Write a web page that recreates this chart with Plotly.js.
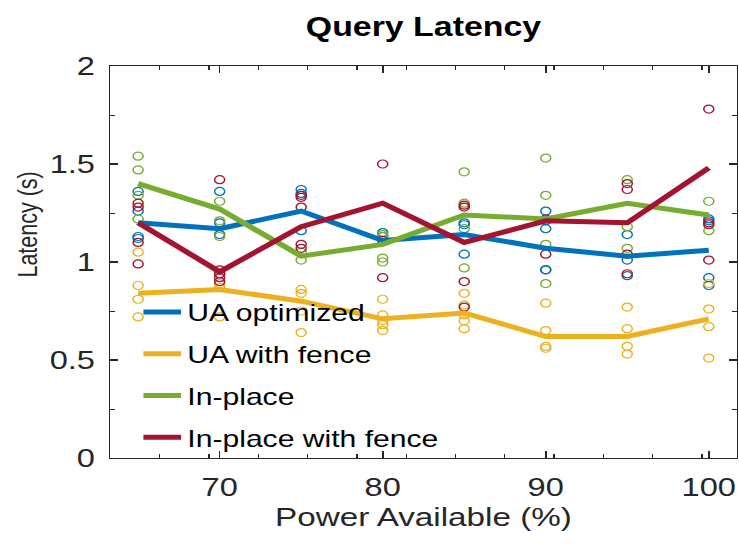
<!DOCTYPE html>
<html>
<head>
<meta charset="utf-8">
<script src="https://cdn.plot.ly/plotly-3.0.1.min.js"></script>
<style>
  html, body { margin: 0; padding: 0; background: #fff; overflow: hidden; }
  #wrap { width: 739px; height: 548px; overflow: hidden; }
  /* the figure is laid out narrow and stretched horizontally */
  #chart { width: 589px; height: 548px; transform: scaleX(1.2547); transform-origin: 0 0; }
</style>
</head>
<body>
<div id="wrap"><div id="chart"></div></div>
<script>
// Power budget levels (%)
const powerLevels = [65, 70, 75, 80, 85, 90, 95, 100];

// Individual run latencies (s), one list per power level
const uaOptimizedRuns = [
  [1.36, 1.26, 1.13, 1.12],
  [1.36, 1.20, 1.14, 0.94],
  [1.37, 1.35, 1.16],
  [1.15, 1.13],
  [1.20, 1.19, 1.04],
  [1.26, 1.21, 1.17, 0.96, 0.96],
  [1.14, 1.01, 0.93],
  [1.22, 1.21, 0.92, 0.88]
];
const uaFenceRuns = [
  [1.05, 0.88, 0.81, 0.72],
  [0.89, 0.87, 0.72],
  [0.86, 0.84, 0.75, 0.64],
  [0.81, 0.73, 0.70, 0.68, 0.65],
  [0.84, 0.78, 0.73, 0.70, 0.66],
  [0.79, 0.65, 0.57, 0.56],
  [0.77, 0.66, 0.57, 0.53],
  [0.89, 0.76, 0.67, 0.51]
];
const inPlaceRuns = [
  [1.54, 1.47, 1.34, 1.22],
  [1.31, 1.21, 1.13],
  [1.05, 1.01],
  [1.14, 1.13, 1.02, 1.00],
  [1.46, 1.30, 1.17, 0.97],
  [1.53, 1.34, 1.09, 0.89],
  [1.42, 1.18, 1.07],
  [1.31, 1.16]
];
const inPlaceFenceRuns = [
  [1.30, 1.28, 1.10, 0.99],
  [1.42, 0.96, 0.94, 0.92, 0.90],
  [1.34, 1.33, 1.28, 1.09, 1.07],
  [1.50, 1.11, 0.92],
  [1.29, 1.28, 0.90, 0.77],
  [1.22, 1.04],
  [1.40, 1.37, 1.04, 0.94],
  [1.78, 1.20, 1.19, 1.01]
];

// Mean latency per power level (s)
const uaOptimizedMean = [1.20, 1.17, 1.26, 1.11, 1.14, 1.07, 1.03, 1.06];
const uaFenceMean     = [0.84, 0.86, 0.80, 0.71, 0.74, 0.62, 0.62, 0.71];
const inPlaceMean     = [1.40, 1.27, 1.03, 1.09, 1.24, 1.22, 1.30, 1.24];
const inPlaceFenceMean = [1.20, 0.95, 1.18, 1.30, 1.10, 1.21, 1.20, 1.48];

const seriesNames = ['UA optimized', 'UA with fence', 'In-place', 'In-place with fence'];
const seriesColors = ['#0072BD', '#EDB120', '#77AC30', '#A2142F'];
const seriesRuns = [uaOptimizedRuns, uaFenceRuns, inPlaceRuns, inPlaceFenceRuns];
const seriesMeans = [uaOptimizedMean, uaFenceMean, inPlaceMean, inPlaceFenceMean];

const FONT = 'Liberation Sans, Arial, Helvetica, sans-serif';
const AXIS = '#262626';

function flattenRuns(runs) {
  const xs = [], ys = [];
  runs.forEach((vals, i) => vals.forEach(v => { xs.push(powerLevels[i]); ys.push(v); }));
  return { xs, ys };
}

const traces = [];
// individual runs as open circles
seriesRuns.forEach((runs, k) => {
  const p = flattenRuns(runs);
  traces.push({
    type: 'scatter', mode: 'markers', x: p.xs, y: p.ys,
    marker: { symbol: 'circle-open', size: 8, color: seriesColors[k], line: { width: 1.2, color: seriesColors[k] } },
    showlegend: false, legendgroup: 'g' + k, hoverinfo: 'skip'
  });
});
// mean lines
seriesMeans.forEach((m, k) => {
  traces.push({
    type: 'scatter', mode: 'lines', x: powerLevels, y: m, name: seriesNames[k],
    line: { color: seriesColors[k], width: 5 }, legendgroup: 'g' + k
  });
});
// empty trace that brings up the secondary tick axis
traces.push({ type: 'scatter', mode: 'markers', x: [], y: [], xaxis: 'x2', showlegend: false, hoverinfo: 'skip' });

const xRange = [63.3, 101.7];

const layout = {
  width: 589, height: 548,
  margin: { l: 87.7, r: 2.4, t: 66, b: 90 },
  paper_bgcolor: '#fff', plot_bgcolor: '#fff',
  font: { family: FONT, color: AXIS },
  showlegend: true,
  title: {
    text: '<b>Query Latency</b>',
    font: { family: FONT, size: 27, color: '#000' },
    x: 0.5, xref: 'paper', y: 1 - 27 / 548, yref: 'container', yanchor: 'middle'
  },
  xaxis: {
    range: xRange, tickmode: 'array', tickvals: [70, 80, 90, 100],
    ticks: 'inside', ticklen: 7, tickwidth: 1.3, tickcolor: AXIS,
    showline: true, linecolor: AXIS, linewidth: 1.3, mirror: 'ticks',
    showgrid: false, zeroline: false,
    tickfont: { family: FONT, size: 26, color: AXIS },
    ticklabelstandoff: 6,
    title: { text: 'Power Available (%)', font: { family: FONT, size: 26.5, color: AXIS }, standoff: 6 }
  },
  // evenly spaced secondary ticks along both horizontal edges
  xaxis2: {
    overlaying: 'x', anchor: 'y', side: 'bottom', range: [0, 12.7],
    tickmode: 'array', tickvals: [1, 2, 3, 4, 5, 6, 7, 8, 9, 10, 11, 12],
    ticks: 'inside', ticklen: 4, tickwidth: 1, tickcolor: AXIS,
    showline: true, linecolor: AXIS, linewidth: 1.3, mirror: 'ticks',
    showticklabels: false, showgrid: false, zeroline: false
  },
  yaxis: {
    range: [0, 2], tickmode: 'linear', tick0: 0, dtick: 0.5,
    ticks: 'inside', ticklen: 6, tickwidth: 1.1, tickcolor: AXIS,
    showline: true, linecolor: AXIS, linewidth: 1.1, mirror: 'ticks',
    showgrid: false, zeroline: false,
    tickfont: { family: FONT, size: 26, color: AXIS },
    ticklabelstandoff: 6,
    minor: { ticks: 'inside', ticklen: 3.5, tickwidth: 1, tickcolor: AXIS, dtick: 0.25, showgrid: false }
  },
  annotations: [{
    text: 'Latency (s)', textangle: -90, showarrow: false,
    xref: 'paper', yref: 'paper', x: (22.3 - 87.7) / 498.9, y: (458 - 225) / 392,
    xanchor: 'center', yanchor: 'middle',
    font: { family: FONT, size: 21.5, color: AXIS }
  }],
  legend: {
    x: (109 - 87.7) / 498.9, y: (458 - 290) / 392, xanchor: 'left', yanchor: 'top',
    bgcolor: 'rgba(0,0,0,0)', borderwidth: 0,
    font: { family: FONT, size: 24, color: '#000' },
    traceorder: 'grouped', tracegroupgap: 7.5
  }
};

Plotly.newPlot('chart', traces, layout, { staticPlot: true, displayModeBar: false });
</script>
</body>
</html>
